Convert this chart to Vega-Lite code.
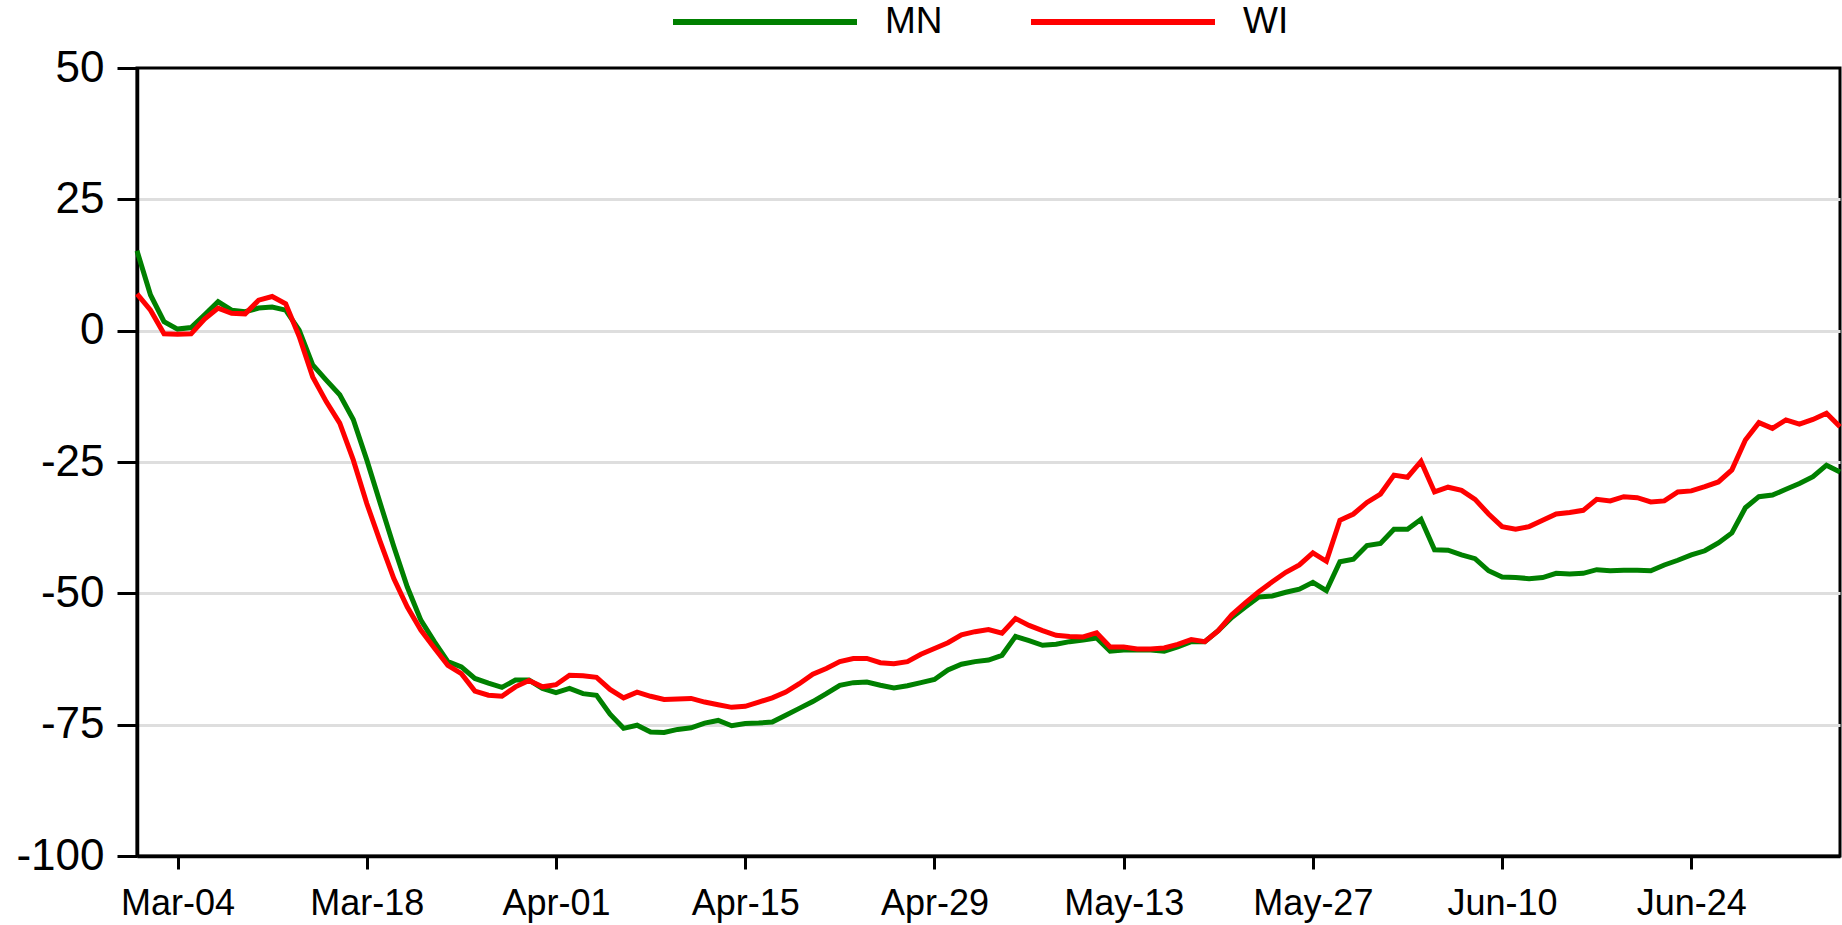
{
  "$schema": "https://vega.github.io/schema/vega-lite/v6.json",
  "width": 1703,
  "height": 788,
  "autosize": {"type": "none"},
  "padding": {"left": 137, "top": 68, "right": 2, "bottom": 69},
  "background": "white",
  "config": {"view": {"stroke": "black", "strokeWidth": 3}, "font": "Liberation Sans"},
  "data": {"values": [
    {"date": "2020-03-01", "MN": 15.2, "WI": 7.0},
    {"date": "2020-03-02", "MN": 6.8, "WI": 3.9},
    {"date": "2020-03-03", "MN": 1.7, "WI": -0.6},
    {"date": "2020-03-04", "MN": 0.3, "WI": -0.7},
    {"date": "2020-03-05", "MN": 0.6, "WI": -0.6},
    {"date": "2020-03-06", "MN": 3.0, "WI": 2.2},
    {"date": "2020-03-07", "MN": 5.5, "WI": 4.3},
    {"date": "2020-03-08", "MN": 3.9, "WI": 3.3},
    {"date": "2020-03-09", "MN": 3.6, "WI": 3.2},
    {"date": "2020-03-10", "MN": 4.3, "WI": 5.8},
    {"date": "2020-03-11", "MN": 4.5, "WI": 6.5},
    {"date": "2020-03-12", "MN": 3.9, "WI": 5.1},
    {"date": "2020-03-13", "MN": 0.1, "WI": -1.1},
    {"date": "2020-03-14", "MN": -6.5, "WI": -8.8},
    {"date": "2020-03-15", "MN": -9.4, "WI": -13.5},
    {"date": "2020-03-16", "MN": -12.2, "WI": -17.6},
    {"date": "2020-03-17", "MN": -16.9, "WI": -24.6},
    {"date": "2020-03-18", "MN": -24.6, "WI": -32.9},
    {"date": "2020-03-19", "MN": -32.9, "WI": -40.2},
    {"date": "2020-03-20", "MN": -41.1, "WI": -47.2},
    {"date": "2020-03-21", "MN": -48.8, "WI": -52.6},
    {"date": "2020-03-22", "MN": -55.1, "WI": -57.0},
    {"date": "2020-03-23", "MN": -59.2, "WI": -60.4},
    {"date": "2020-03-24", "MN": -63.0, "WI": -63.7},
    {"date": "2020-03-25", "MN": -64.0, "WI": -65.3},
    {"date": "2020-03-26", "MN": -66.2, "WI": -68.6},
    {"date": "2020-03-27", "MN": -67.1, "WI": -69.4},
    {"date": "2020-03-28", "MN": -67.9, "WI": -69.6},
    {"date": "2020-03-29", "MN": -66.5, "WI": -67.8},
    {"date": "2020-03-30", "MN": -66.5, "WI": -66.6},
    {"date": "2020-03-31", "MN": -68.1, "WI": -67.8},
    {"date": "2020-04-01", "MN": -68.9, "WI": -67.4},
    {"date": "2020-04-02", "MN": -68.1, "WI": -65.6},
    {"date": "2020-04-03", "MN": -69.1, "WI": -65.7},
    {"date": "2020-04-04", "MN": -69.4, "WI": -66.0},
    {"date": "2020-04-05", "MN": -73.0, "WI": -68.3},
    {"date": "2020-04-06", "MN": -75.7, "WI": -69.9},
    {"date": "2020-04-07", "MN": -75.1, "WI": -68.8},
    {"date": "2020-04-08", "MN": -76.4, "WI": -69.6},
    {"date": "2020-04-09", "MN": -76.5, "WI": -70.2},
    {"date": "2020-04-10", "MN": -75.9, "WI": -70.1},
    {"date": "2020-04-11", "MN": -75.6, "WI": -70.0},
    {"date": "2020-04-12", "MN": -74.7, "WI": -70.7},
    {"date": "2020-04-13", "MN": -74.2, "WI": -71.2},
    {"date": "2020-04-14", "MN": -75.2, "WI": -71.7},
    {"date": "2020-04-15", "MN": -74.8, "WI": -71.5},
    {"date": "2020-04-16", "MN": -74.7, "WI": -70.7},
    {"date": "2020-04-17", "MN": -74.5, "WI": -69.9},
    {"date": "2020-04-18", "MN": -73.2, "WI": -68.8},
    {"date": "2020-04-19", "MN": -71.9, "WI": -67.2},
    {"date": "2020-04-20", "MN": -70.6, "WI": -65.4},
    {"date": "2020-04-21", "MN": -69.1, "WI": -64.3},
    {"date": "2020-04-22", "MN": -67.5, "WI": -63.0},
    {"date": "2020-04-23", "MN": -67.0, "WI": -62.4},
    {"date": "2020-04-24", "MN": -66.9, "WI": -62.4},
    {"date": "2020-04-25", "MN": -67.5, "WI": -63.2},
    {"date": "2020-04-26", "MN": -68.0, "WI": -63.4},
    {"date": "2020-04-27", "MN": -67.6, "WI": -63.0},
    {"date": "2020-04-28", "MN": -67.0, "WI": -61.6},
    {"date": "2020-04-29", "MN": -66.4, "WI": -60.5},
    {"date": "2020-04-30", "MN": -64.6, "WI": -59.4},
    {"date": "2020-05-01", "MN": -63.5, "WI": -57.9},
    {"date": "2020-05-02", "MN": -63.0, "WI": -57.3},
    {"date": "2020-05-03", "MN": -62.7, "WI": -56.9},
    {"date": "2020-05-04", "MN": -61.8, "WI": -57.6},
    {"date": "2020-05-05", "MN": -58.2, "WI": -54.8},
    {"date": "2020-05-06", "MN": -59.0, "WI": -56.1},
    {"date": "2020-05-07", "MN": -59.9, "WI": -57.1},
    {"date": "2020-05-08", "MN": -59.7, "WI": -58.0},
    {"date": "2020-05-09", "MN": -59.2, "WI": -58.2},
    {"date": "2020-05-10", "MN": -58.9, "WI": -58.3},
    {"date": "2020-05-11", "MN": -58.5, "WI": -57.5},
    {"date": "2020-05-12", "MN": -61.0, "WI": -60.2},
    {"date": "2020-05-13", "MN": -60.8, "WI": -60.2},
    {"date": "2020-05-14", "MN": -60.8, "WI": -60.6},
    {"date": "2020-05-15", "MN": -60.8, "WI": -60.6},
    {"date": "2020-05-16", "MN": -61.0, "WI": -60.4},
    {"date": "2020-05-17", "MN": -60.2, "WI": -59.7},
    {"date": "2020-05-18", "MN": -59.2, "WI": -58.8},
    {"date": "2020-05-19", "MN": -59.2, "WI": -59.2},
    {"date": "2020-05-20", "MN": -57.1, "WI": -57.1},
    {"date": "2020-05-21", "MN": -54.6, "WI": -54.1},
    {"date": "2020-05-22", "MN": -52.6, "WI": -51.8},
    {"date": "2020-05-23", "MN": -50.7, "WI": -49.7},
    {"date": "2020-05-24", "MN": -50.5, "WI": -47.8},
    {"date": "2020-05-25", "MN": -49.8, "WI": -46.0},
    {"date": "2020-05-26", "MN": -49.2, "WI": -44.6},
    {"date": "2020-05-27", "MN": -47.9, "WI": -42.3},
    {"date": "2020-05-28", "MN": -49.5, "WI": -43.9},
    {"date": "2020-05-29", "MN": -44.0, "WI": -36.1},
    {"date": "2020-05-30", "MN": -43.5, "WI": -34.9},
    {"date": "2020-05-31", "MN": -40.9, "WI": -32.7},
    {"date": "2020-06-01", "MN": -40.5, "WI": -31.1},
    {"date": "2020-06-02", "MN": -37.8, "WI": -27.5},
    {"date": "2020-06-03", "MN": -37.8, "WI": -27.9},
    {"date": "2020-06-04", "MN": -35.9, "WI": -24.9},
    {"date": "2020-06-05", "MN": -41.7, "WI": -30.7},
    {"date": "2020-06-06", "MN": -41.8, "WI": -29.8},
    {"date": "2020-06-07", "MN": -42.7, "WI": -30.4},
    {"date": "2020-06-08", "MN": -43.4, "WI": -32.1},
    {"date": "2020-06-09", "MN": -45.7, "WI": -34.9},
    {"date": "2020-06-10", "MN": -46.9, "WI": -37.3},
    {"date": "2020-06-11", "MN": -47.0, "WI": -37.8},
    {"date": "2020-06-12", "MN": -47.2, "WI": -37.3},
    {"date": "2020-06-13", "MN": -47.0, "WI": -36.1},
    {"date": "2020-06-14", "MN": -46.2, "WI": -34.9},
    {"date": "2020-06-15", "MN": -46.3, "WI": -34.6},
    {"date": "2020-06-16", "MN": -46.2, "WI": -34.2},
    {"date": "2020-06-17", "MN": -45.5, "WI": -32.1},
    {"date": "2020-06-18", "MN": -45.7, "WI": -32.4},
    {"date": "2020-06-19", "MN": -45.6, "WI": -31.6},
    {"date": "2020-06-20", "MN": -45.6, "WI": -31.8},
    {"date": "2020-06-21", "MN": -45.7, "WI": -32.6},
    {"date": "2020-06-22", "MN": -44.6, "WI": -32.4},
    {"date": "2020-06-23", "MN": -43.7, "WI": -30.7},
    {"date": "2020-06-24", "MN": -42.7, "WI": -30.5},
    {"date": "2020-06-25", "MN": -41.9, "WI": -29.7},
    {"date": "2020-06-26", "MN": -40.4, "WI": -28.8},
    {"date": "2020-06-27", "MN": -38.5, "WI": -26.5},
    {"date": "2020-06-28", "MN": -33.7, "WI": -20.8},
    {"date": "2020-06-29", "MN": -31.6, "WI": -17.5},
    {"date": "2020-06-30", "MN": -31.3, "WI": -18.6},
    {"date": "2020-07-01", "MN": -30.2, "WI": -17.0},
    {"date": "2020-07-02", "MN": -29.1, "WI": -17.8},
    {"date": "2020-07-03", "MN": -27.8, "WI": -16.9},
    {"date": "2020-07-04", "MN": -25.6, "WI": -15.7},
    {"date": "2020-07-05", "MN": -26.9, "WI": -18.3}
  ]},
  "transform": [{"fold": ["MN", "WI"], "as": ["state", "value"]}],
  "mark": {"type": "line", "strokeWidth": 5},
  "encoding": {
    "x": {
      "field": "date",
      "type": "temporal",
      "scale": {
        "type": "utc",
        "nice": false,
        "domain": [
          {"year": 2020, "month": 3, "date": 1, "utc": true},
          {"year": 2020, "month": 7, "date": 5, "utc": true}
        ]
      },
      "axis": {
        "title": null,
        "values": [
          {"year": 2020, "month": 3, "date": 4, "utc": true},
          {"year": 2020, "month": 3, "date": 18, "utc": true},
          {"year": 2020, "month": 4, "date": 1, "utc": true},
          {"year": 2020, "month": 4, "date": 15, "utc": true},
          {"year": 2020, "month": 4, "date": 29, "utc": true},
          {"year": 2020, "month": 5, "date": 13, "utc": true},
          {"year": 2020, "month": 5, "date": 27, "utc": true},
          {"year": 2020, "month": 6, "date": 10, "utc": true},
          {"year": 2020, "month": 6, "date": 24, "utc": true}
        ],
        "format": "%b-%d",
        "grid": false,
        "labelFont": "Liberation Sans",
        "labelFontSize": 36,
        "labelColor": "black",
        "labelPadding": 17,
        "labelFlush": false,
        "labelOverlap": false,
        "tickSize": 13,
        "tickWidth": 3,
        "tickColor": "black",
        "domainColor": "black",
        "domainWidth": 3.5
      }
    },
    "y": {
      "field": "value",
      "type": "quantitative",
      "scale": {"domain": [-100, 50], "nice": false, "zero": false},
      "axis": {
        "title": null,
        "values": [-100, -75, -50, -25, 0, 25, 50],
        "labelExpr": "'' + datum.value",
        "labelFont": "Liberation Sans",
        "labelFontSize": 44,
        "labelColor": "black",
        "labelPadding": 13,
        "labelFlush": false,
        "labelOverlap": false,
        "tickSize": 20,
        "tickWidth": 3,
        "tickColor": "black",
        "domainColor": "black",
        "domainWidth": 3.5,
        "grid": true,
        "gridColor": {"condition": {"test": "datum.value === 50 || datum.value === -100", "value": "transparent"}, "value": "#dedede"},
        "gridWidth": 3
      }
    },
    "color": {
      "field": "state",
      "type": "nominal",
      "scale": {"domain": ["MN", "WI"], "range": ["#008000", "#ff0000"]},
      "legend": {
        "orient": "none",
        "legendX": 533,
        "legendY": -141,
        "direction": "horizontal",
        "title": null,
        "symbolType": "stroke",
        "symbolSize": 33856,
        "symbolStrokeWidth": 6,
        "labelFont": "Liberation Sans",
        "labelFontSize": 37,
        "labelColor": "black",
        "labelOffset": 25,
        "columnPadding": 76,
        "padding": 0
      }
    }
  }
}
